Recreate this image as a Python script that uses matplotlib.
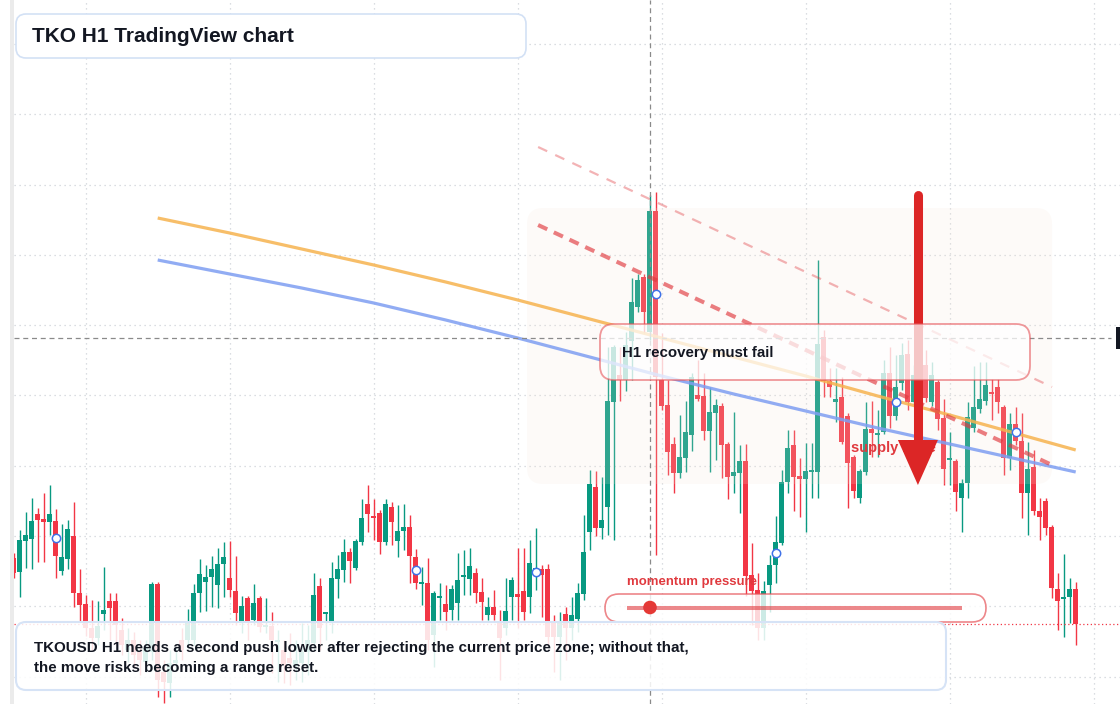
import numpy as np
import matplotlib
matplotlib.use("Agg")
import matplotlib.pyplot as plt
from matplotlib.patches import FancyBboxPatch, Rectangle, Circle, Polygon
import matplotlib.transforms as mtransforms

plt.rcParams['font.family'] = ['Liberation Sans', 'DejaVu Sans']

# ---------------- data (TKOUSD, H1 candles, price in USD) ----------------
opens = [
    .442, .428, .459, .461, .486, .481, .478, .479, .429, .441,
    .464, .407, .396, .372, .362, .386, .399, .399, .370, .350,
    .360, .348, .338, .348, .416, .328, .317, .337, .360, .360,
    .360, .407, .418, .423, .415, .436, .422, .409, .377, .402,
    .380, .402, .373, .374, .358, .350, .342, .334, .337, .348,
    .357, .414, .386, .378, .421, .430, .448, .432, .458, .496,
    .484, .487, .458, .493, .459, .469, .473, .443, .416, .417,
    .365, .402, .396, .390, .397, .423, .421, .427, .408, .385,
    .393, .378, .372, .403, .406, .409, .403, .428, .431, .431,
    .378, .363, .386, .372, .381, .406, .468, .513, .472, .493,
    .598, .625, .620, .659, .693, .723, .668, .789, .620, .595,
    .556, .527, .542, .565, .605, .604, .569, .587, .594, .556,
    .524, .527, .539, .425, .410, .372, .415, .435, .457, .518,
    .555, .524, .521, .528, .528, .663, .619, .598, .603, .584,
    .543, .502, .528, .571, .565, .568, .627, .584, .617, .646,
    .598, .635, .635, .598, .618, .582, .540, .539, .502, .517,
    .572, .591, .599, .607, .613, .593, .542, .576, .559, .507,
    .533, .489, .499, .473, .411, .401, .403, .411]
highs = [
    .447, .470, .488, .502, .492, .507, .515, .491, .476, .480,
    .498, .431, .405, .400, .399, .433, .407, .407, .382, .372,
    .368, .360, .360, .418, .418, .340, .350, .352, .372, .391,
    .416, .441, .435, .444, .452, .458, .459, .444, .404, .404,
    .416, .404, .402, .388, .370, .360, .367, .360, .377, .375,
    .427, .422, .388, .438, .445, .461, .452, .461, .501, .515,
    .501, .490, .501, .498, .495, .496, .485, .451, .433, .442,
    .409, .417, .415, .415, .447, .450, .452, .432, .422, .403,
    .410, .390, .422, .423, .452, .452, .460, .472, .435, .436,
    .385, .388, .393, .403, .417, .485, .530, .529, .523, .653,
    .655, .653, .668, .722, .726, .726, .805, .808, .667, .620,
    .563, .585, .599, .627, .640, .627, .613, .601, .597, .558,
    .588, .555, .556, .457, .427, .419, .445, .484, .530, .570,
    .570, .542, .557, .557, .740, .670, .632, .632, .623, .587,
    .545, .531, .598, .599, .590, .640, .653, .645, .657, .660,
    .635, .645, .650, .638, .620, .601, .568, .541, .521, .598,
    .634, .638, .638, .621, .621, .595, .587, .593, .587, .558,
    .550, .502, .502, .475, .427, .446, .422, .418]
lows = [
    .422, .403, .432, .431, .438, .438, .465, .422, .425, .431,
    .393, .379, .364, .350, .355, .370, .360, .355, .345, .338,
    .332, .325, .328, .340, .303, .297, .303, .330, .340, .355,
    .355, .388, .389, .393, .392, .403, .403, .375, .367, .360,
    .375, .368, .367, .327, .318, .317, .315, .320, .318, .325,
    .350, .350, .360, .367, .402, .418, .417, .430, .455, .468,
    .460, .446, .455, .455, .443, .450, .417, .411, .395, .350,
    .333, .380, .370, .380, .380, .405, .405, .397, .380, .380,
    .380, .320, .365, .380, .372, .380, .387, .410, .383, .355,
    .328, .320, .340, .360, .368, .400, .450, .464, .461, .465,
    .460, .599, .609, .620, .688, .667, .660, .445, .590, .525,
    .507, .522, .528, .549, .599, .560, .528, .540, .522, .501,
    .507, .487, .404, .375, .360, .360, .388, .417, .455, .507,
    .489, .483, .468, .502, .502, .603, .603, .578, .556, .492,
    .502, .497, .525, .543, .543, .566, .572, .580, .610, .590,
    .595, .600, .598, .594, .570, .515, .515, .489, .468, .502,
    .568, .587, .595, .580, .587, .525, .530, .555, .482, .465,
    .485, .460, .465, .402, .370, .363, .377, .355]
closes = [
    .427, .460, .465, .479, .480, .478, .486, .444, .443, .471,
    .407, .395, .372, .362, .374, .390, .392, .375, .355, .360,
    .345, .340, .352, .416, .320, .318, .337, .340, .350, .378,
    .407, .426, .423, .431, .436, .443, .410, .387, .394, .378,
    .397, .373, .375, .360, .360, .335, .337, .340, .348, .360,
    .405, .372, .387, .422, .431, .448, .439, .459, .482, .486,
    .482, .458, .496, .478, .469, .473, .444, .417, .418, .360,
    .407, .404, .388, .411, .420, .424, .434, .407, .398, .393,
    .385, .362, .389, .420, .403, .388, .437, .432, .425, .363,
    .363, .378, .372, .385, .407, .448, .516, .472, .480, .599,
    .653, .620, .655, .698, .720, .688, .789, .623, .594, .548,
    .527, .543, .568, .623, .601, .569, .588, .595, .555, .523,
    .528, .539, .424, .409, .372, .409, .435, .458, .518, .552,
    .523, .521, .529, .530, .656, .619, .613, .601, .558, .537,
    .509, .529, .571, .567, .567, .627, .584, .613, .645, .598,
    .625, .605, .602, .625, .581, .531, .542, .508, .517, .583,
    .593, .601, .615, .606, .598, .542, .576, .559, .507, .531,
    .489, .483, .472, .412, .399, .403, .411, .376]

# moving averages, read at candle indices
ma_idx = [24, 36, 48, 60, 72, 84, 96, 108, 120, 132, 144, 156, 168, 177]
ma_fast = [.782, .767, .751, .735, .718, .700, .681, .662, .643, .624, .604, .585, .565, .550]
ma_slow = [.740, .726, .712, .697, .680, .662, .643, .624, .606, .589, .572, .556, .540, .528]

# signal markers (candle index, price)
marker_idx = [7, 67, 87, 107, 127, 147, 167]
marker_price = [.462, .430, .428, .706, .447, .598, .568]

# supply zone and descending channel
zone_idx = [85.55, 173.05]
zone_price = [0.516, 0.792]
channel_idx = [87.4, 173.05]
channel_upper = [0.853, 0.613]
channel_lower = [0.775, 0.535]

crosshair_idx = 106
crosshair_price = 0.662
arrow_idx = 150.7
arrow_from = 0.805
arrow_to = 0.515

GREEN = '#089981'
RED = '#f23645'
INK = '#131722'

# ---------------- figure ----------------
W, H = 1120, 704
fig = plt.figure(figsize=(W / 100, H / 100), dpi=100)
fig.patch.set_facecolor('white')
ax = fig.add_axes([14 / W, 0, (W - 14) / W, 1])
ax.set_xlim(0.05, 184.38)
ax.set_ylim(0.296, 1.0)
ax.set_facecolor('white')
for s in ax.spines.values():
    s.set_visible(False)
ax.tick_params(left=False, bottom=False, labelleft=False, labelbottom=False)

# grid
ax.set_xticks(np.arange(12, 185, 24))
ax.set_yticks(np.arange(0.3235, 1.0, 0.07025))
ax.grid(True, color='#cfd3d8', linestyle=(0, (1, 3)), linewidth=0.9, zorder=0)
ax.set_axisbelow(True)

o = np.array(opens); h = np.array(highs); l = np.array(lows); c = np.array(closes)
idx = np.arange(len(o))
cols = np.where(c >= o, GREEN, RED)
ax.vlines(idx, l, h, colors=cols, linewidth=1.0, zorder=2)
body_lo = np.minimum(o, c)
body_h = np.maximum(np.abs(c - o), 0.0016)
ax.bar(idx, body_h, bottom=body_lo, width=0.78, color=cols, linewidth=0, zorder=2.1)

ax.figure.canvas.draw()
tD = ax.transData
ident = mtransforms.IdentityTransform()

# supply zone (rounded, in display pixels)
(zx0, zy0) = tD.transform((zone_idx[0], zone_price[0]))
(zx1, zy1) = tD.transform((zone_idx[1], zone_price[1]))
ax.add_patch(FancyBboxPatch((zx0, zy0), zx1 - zx0, zy1 - zy0,
                            boxstyle='round,pad=0,rounding_size=16',
                            transform=ident, facecolor='#f6e4d6', alpha=0.17,
                            edgecolor='none', zorder=3))

# moving averages
ax.plot(ma_idx, ma_fast, color='#f6b34f', alpha=0.85, linewidth=2.3, zorder=4,
        solid_capstyle='butt', solid_joinstyle='round')
ax.plot(ma_idx, ma_slow, color='#7e9ef2', alpha=0.85, linewidth=2.3, zorder=4,
        solid_capstyle='butt', solid_joinstyle='round')

# descending channel
ax.plot(channel_idx, channel_upper, color='#e0393e', alpha=0.38, linewidth=1.6,
        dashes=(4.5, 4.0), zorder=4)
ax.plot(channel_idx, channel_lower, color='#e0393e', alpha=0.65, linewidth=2.9,
        dashes=(2.5, 1.8), zorder=4)

# markers
ax.plot(marker_idx, marker_price, linestyle='none', marker='o', markersize=6,
        markerfacecolor='white', markeredgecolor='#3f72e8', markeredgewidth=1.1,
        zorder=5)

# crosshair
ax.axvline(crosshair_idx, color='#8a8a8a', linewidth=0.9, dashes=(4, 3), zorder=5)
ax.axhline(crosshair_price, xmax=0.992, color='#8a8a8a', linewidth=0.9,
           dashes=(4, 3), zorder=5)
blend = mtransforms.blended_transform_factory(ax.transAxes, ax.transData)
ax.add_patch(Rectangle((0.9965, crosshair_price - 0.011), 0.03, 0.022,
                       transform=blend, facecolor='#131722', edgecolor='none',
                       zorder=6, clip_on=True))

# last price line
ax.axhline(closes[-1], color=RED, linewidth=0.9, linestyle=(0, (1, 2)), zorder=5)

# supply zone label
ax.text(139.55, 0.552, 'supply zone', color='#e0393e', fontsize=10.5,
        fontweight='bold', va='center', ha='left', zorder=6)

# big arrow
px_x = tD.transform((1, 0))[0] - tD.transform((0, 0))[0]
px_y = tD.transform((0, 1))[1] - tD.transform((0, 0))[1]
head_len = 45 / px_y
head_half = 20 / px_x
ax.plot([arrow_idx, arrow_idx], [arrow_from, arrow_to + head_len * 0.9],
        color='#dc2626', linewidth=6.5, solid_capstyle='round', zorder=7)
ax.add_patch(Polygon([[arrow_idx - head_half, arrow_to + head_len],
                      [arrow_idx + head_half, arrow_to + head_len],
                      [arrow_idx, arrow_to]], closed=True,
                     facecolor='#dc2626', edgecolor='none', zorder=7))

# ---------------- overlay (pixel layout) ----------------
ov = fig.add_axes([0, 0, 1, 1])
ov.set_xlim(0, W)
ov.set_ylim(H, 0)
ov.axis('off')

ov.add_patch(Rectangle((10, 0), 4, H, facecolor='#ebebeb', edgecolor='none'))

# header
ov.add_patch(FancyBboxPatch((16, 14), 510, 44, boxstyle='round,pad=0,rounding_size=10',
                            facecolor='white', edgecolor='#d3e1f5', linewidth=1.2))
ov.text(32, 36.5, 'TKO H1 TradingView chart', fontsize=15, fontweight='bold',
        color=INK, va='center', ha='left')

# H1 box
ov.add_patch(FancyBboxPatch((600, 324), 430, 56, boxstyle='round,pad=0,rounding_size=14',
                            facecolor=(1, 1, 1, 0.74), edgecolor=(0.9, 0.33, 0.35, 0.6),
                            linewidth=1.3))
ov.text(622, 353.5, 'H1 recovery must fail', fontsize=10.8, fontweight='bold',
        color=INK, va='center', ha='left')

# momentum widget
ov.text(627, 582, 'momentum pressure', fontsize=9.45, fontweight='bold',
        color='#e0393e', va='center', ha='left')
ov.add_patch(FancyBboxPatch((605, 594), 381, 28, boxstyle='round,pad=0,rounding_size=14',
                            facecolor=(1, 1, 1, 0.8), edgecolor=(0.9, 0.33, 0.35, 0.7),
                            linewidth=1.2))
ov.plot([627, 962], [607.5, 607.5], color='#e0393e', alpha=0.6, linewidth=2.9,
        solid_capstyle='butt')
ov.add_patch(Circle((650, 607.5), 6.8, facecolor='#e53935', edgecolor='none'))

# bottom note
ov.add_patch(FancyBboxPatch((16, 622), 930, 68, boxstyle='round,pad=0,rounding_size=10',
                            facecolor=(1, 1, 1, 0.86), edgecolor='#d6e3f6', linewidth=1.5))
ov.text(34, 648, 'TKOUSD H1 needs a second push lower after rejecting the current price zone; without that,',
        fontsize=10.9, fontweight='bold', color=INK, va='center', ha='left')
ov.text(34, 668, 'the move risks becoming a range reset.',
        fontsize=10.9, fontweight='bold', color=INK, va='center', ha='left')

fig.savefig('out.png', dpi=100, facecolor='white')
